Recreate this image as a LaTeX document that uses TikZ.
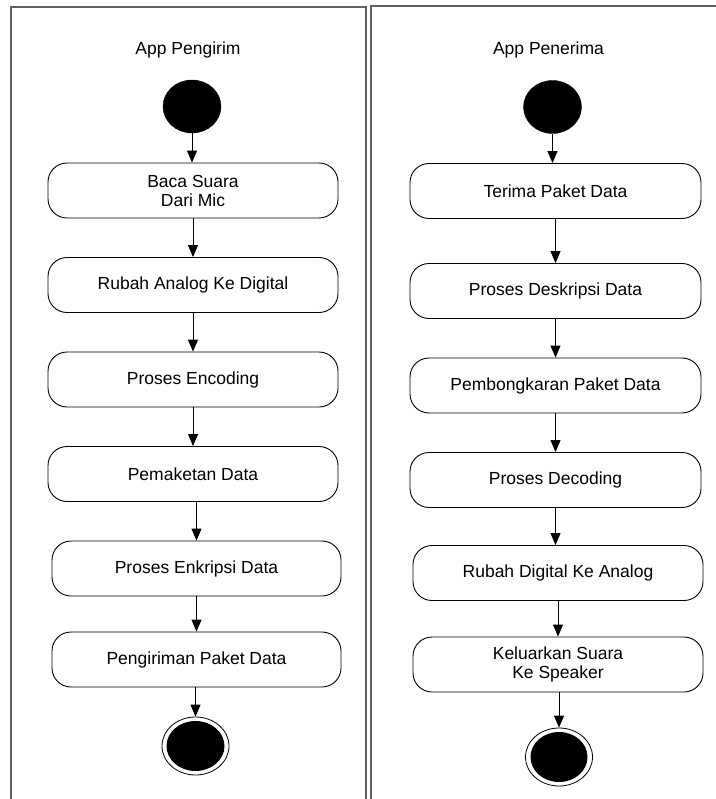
\documentclass[tikz,border=0pt]{standalone}
\usepackage{fontspec}
\setmainfont{Liberation Sans}
\usetikzlibrary{shapes.geometric,arrows.meta}
\begin{document}
\begin{tikzpicture}[x=1pt,y=-1pt,
  every node/.style={font=\fontsize{17.5}{19}\selectfont},
  act/.style={draw=black,line width=0.9pt,rounded corners=19pt,fill=white,
    minimum height=55pt,inner sep=0pt,align=center},
  startnode/.style={ellipse,fill=black,draw=black,inner sep=0pt,minimum width=58pt,minimum height=53pt},
  endnode/.style={ellipse,fill=white,draw=black,line width=0.8pt,inner sep=0pt,minimum width=67pt,minimum height=58pt},
  flow/.style={line width=0.9pt,-{Triangle[length=12pt,width=10pt]}},
  lane/.style={draw=black!62,line width=1.4pt}]
\useasboundingbox (0,0) rectangle (715,799);
% swimlanes
\draw[lane] (11,800) -- (11,7) -- (366,7) -- (366,800);
\draw[lane] (371,800) -- (371,6) -- (716,6);
% titles
\node (tL) at (188,50) {App Pengirim};
\node (tR) at (548.5,50) {App Penerima};
% left lane
\node[startnode] (sL) at (192,106.5) {};
\node[act,minimum width=290pt] (L1) at (193,190.5) {Baca Suara\\Dari Mic};
\node[act,minimum width=290pt] (L2) at (193,285) {Rubah Analog Ke Digital};
\node[act,minimum width=290pt] (L3) at (193,379.5) {Proses Encoding};
\node[act,minimum width=290pt] (L4) at (193,474) {Pemaketan Data};
\node[act,minimum width=289pt] (L5) at (196.5,568.5) {Proses Enkripsi Data};
\node[act,minimum width=289pt] (L6) at (196.5,659.5) {Pengiriman Paket Data};
\node[endnode] (eL) at (195.5,746) {};
\fill (eL) ellipse [x radius=29pt,y radius=25pt];
% right lane
\node[startnode] (sR) at (552.5,107) {};
\node[act,minimum width=291pt] (R1) at (555.5,191) {Terima Paket Data};
\node[act,minimum width=291pt] (R2) at (555.5,291) {Proses Deskripsi Data};
\node[act,minimum width=291pt] (R3) at (555.5,385.5) {Pembongkaran Paket Data};
\node[act,minimum width=291pt] (R4) at (555.5,480) {Proses Decoding};
\node[act,minimum width=290pt] (R5) at (558,573) {Rubah Digital Ke Analog};
\node[act,minimum width=290pt] (R6) at (558,664.5) {Keluarkan Suara\\Ke Speaker};
\node[endnode] (eR) at (559,757) {};
\fill (eR) ellipse [x radius=28.5pt,y radius=25pt];
% flows left
\draw[flow] (sL.south) -- (sL.south |- L1.north);
\draw[flow] (L1.south) -- (L2.north);
\draw[flow] (L2.south) -- (L3.north);
\draw[flow] (L3.south) -- (L4.north);
\draw[flow] (L5.north |- L4.south) -- (L5.north);
\draw[flow] (L5.south) -- (L6.north);
\draw[flow] (eL.north |- L6.south) -- (eL.north);
% flows right
\draw[flow] (sR.south) -- (sR.south |- R1.north);
\draw[flow] (R1.south) -- (R2.north);
\draw[flow] (R2.south) -- (R3.north);
\draw[flow] (R3.south) -- (R4.north);
\draw[flow] (R4.south) -- (R4.south |- R5.north);
\draw[flow] (R5.south) -- (R5.south |- R6.north);
\draw[flow] (eR.north |- R6.south) -- (eR.north);
\end{tikzpicture}
\end{document}
